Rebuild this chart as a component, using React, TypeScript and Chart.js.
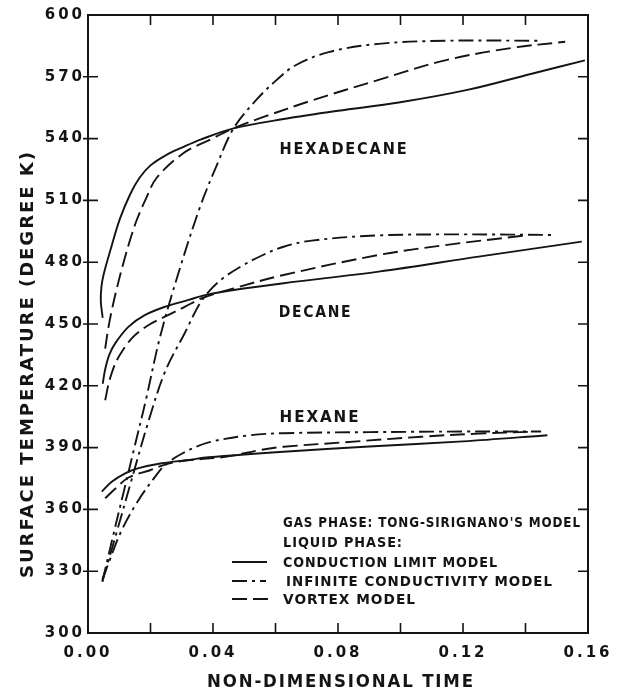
import { useEffect, useRef } from 'react';
import { Chart, registerables } from 'chart.js';

Chart.register(...registerables);

const INK = '#141414';
const FAMILY = '"DejaVu Sans", "Liberation Sans", sans-serif';

// Axis tick labels
const xTickLabels = ['0.00', '0.04', '0.08', '0.12', '0.16'];
const yTickLabels = ['300', '330', '360', '390', '420', '450', '480', '510', '540', '570', '600'];

// Hexadecane: non-dimensional time and surface temperature (K)
const hexadecaneConductionTime = [0.0047, 0.0041, 0.0043, 0.005, 0.0072, 0.0102, 0.0135, 0.0165, 0.02, 0.025, 0.0306, 0.036, 0.0466, 0.0626, 0.08, 0.0994, 0.121, 0.142, 0.159];
const hexadecaneConductionTemp = [453, 461, 468, 474, 486, 501, 513, 521, 527, 532, 536, 539.5, 545, 549.5, 553.5, 557.5, 563.5, 571.5, 578];
const hexadecaneInfiniteTime = [0.0046, 0.008, 0.0115, 0.015, 0.0185, 0.0231, 0.029, 0.0359, 0.0412, 0.0466, 0.054, 0.0604, 0.0663, 0.077, 0.093, 0.1143, 0.144];
const hexadecaneInfiniteTemp = [325, 347, 369, 391, 413, 444, 475, 507, 527, 545, 559, 568.5, 575.5, 582, 586, 587.5, 587.5];
const hexadecaneVortexTime = [0.0055, 0.0065, 0.0078, 0.0095, 0.0114, 0.0135, 0.0156, 0.0183, 0.022, 0.0306, 0.0391, 0.0466, 0.0562, 0.0716, 0.093, 0.1143, 0.1355, 0.1527];
const hexadecaneVortexTemp = [438, 448, 458, 469, 480, 491, 500.5, 510, 521, 533, 539.5, 545, 550.5, 558.5, 568.5, 578, 584, 587];

// Decane
const decaneConductionTime = [0.0047, 0.0055, 0.0068, 0.0087, 0.013, 0.0183, 0.0247, 0.0322, 0.0375, 0.0466, 0.0626, 0.093, 0.125, 0.158];
const decaneConductionTemp = [421, 428, 435, 440.6, 448.7, 454.4, 458.4, 461.7, 464, 466.5, 469.8, 475.4, 482.7, 490];
const decaneInfiniteTime = [0.0046, 0.009, 0.0135, 0.0194, 0.0247, 0.0311, 0.0354, 0.0385, 0.043, 0.049, 0.056, 0.0626, 0.0716, 0.093, 0.12, 0.1495];
const decaneInfiniteTemp = [325, 348, 372, 403, 427, 446, 459, 465.5, 472, 478, 483.5, 487.5, 490.5, 493, 493.5, 493.2];
const decaneVortexTime = [0.0055, 0.0066, 0.008, 0.0098, 0.014, 0.0194, 0.0258, 0.0311, 0.0364, 0.0466, 0.0626, 0.093, 0.1143, 0.14];
const decaneVortexTemp = [413, 421, 428, 434, 443, 449.5, 454.4, 458.4, 462.5, 467.3, 473.8, 483.5, 488.3, 493];

// Hexane
const hexaneConductionTime = [0.0044, 0.0076, 0.0119, 0.0162, 0.0236, 0.0322, 0.0386, 0.0626, 0.09, 0.12, 0.147];
const hexaneConductionTemp = [368.6, 373.4, 377.5, 380, 382.4, 384, 385.3, 388, 390.5, 393, 396];
const hexaneInfiniteTime = [0.0046, 0.0066, 0.0108, 0.0162, 0.0215, 0.0247, 0.03, 0.0386, 0.0519, 0.0626, 0.09, 0.12, 0.145];
const hexaneInfiniteTemp = [326, 334, 350, 364.6, 375.9, 381.6, 387, 392.5, 396, 397, 397.5, 397.8, 397.8];
const hexaneVortexTime = [0.0055, 0.0087, 0.013, 0.0199, 0.0242, 0.03, 0.0444, 0.055, 0.0626, 0.0823, 0.1068, 0.125, 0.142];
const hexaneVortexTemp = [365.4, 370, 375.5, 379, 381.5, 383.5, 385.6, 388.8, 390.4, 392.6, 395.3, 396.8, 397.7];

// Line styles for the liquid-phase models
const SOLID: number[] = [];
const DASH_DOT = [15, 5, 3, 5];
const DASHED = [15, 6];

const curves = [
  { label: 'Hexadecane, conduction limit', time: hexadecaneConductionTime, temp: hexadecaneConductionTemp, dash: SOLID },
  { label: 'Hexadecane, infinite conductivity', time: hexadecaneInfiniteTime, temp: hexadecaneInfiniteTemp, dash: DASH_DOT },
  { label: 'Hexadecane, vortex', time: hexadecaneVortexTime, temp: hexadecaneVortexTemp, dash: DASHED },
  { label: 'Decane, conduction limit', time: decaneConductionTime, temp: decaneConductionTemp, dash: SOLID },
  { label: 'Decane, infinite conductivity', time: decaneInfiniteTime, temp: decaneInfiniteTemp, dash: DASH_DOT },
  { label: 'Decane, vortex', time: decaneVortexTime, temp: decaneVortexTemp, dash: DASHED },
  { label: 'Hexane, conduction limit', time: hexaneConductionTime, temp: hexaneConductionTemp, dash: SOLID },
  { label: 'Hexane, infinite conductivity', time: hexaneInfiniteTime, temp: hexaneInfiniteTemp, dash: DASH_DOT },
  { label: 'Hexane, vortex', time: hexaneVortexTime, temp: hexaneVortexTemp, dash: DASHED },
];

// Draws a bold string starting at (x, y) and squeezed or stretched to the given width
function fitText(ctx: CanvasRenderingContext2D, text: string, x: number, y: number, width: number, size: number, spacing: number) {
  ctx.save();
  ctx.font = `bold ${size}px ${FAMILY}`;
  (ctx as any).letterSpacing = `${spacing}px`;
  ctx.textAlign = 'left';
  ctx.textBaseline = 'alphabetic';
  ctx.fillStyle = INK;
  const natural = ctx.measureText(text).width - spacing;
  ctx.translate(x, y);
  ctx.scale(width / natural, 1);
  ctx.fillText(text, 0, 0);
  ctx.restore();
}

function sampleLine(ctx: CanvasRenderingContext2D, x0: number, x1: number, y: number, dash: number[]) {
  ctx.save();
  ctx.strokeStyle = INK;
  ctx.lineWidth = 1.9;
  ctx.setLineDash(dash);
  ctx.beginPath();
  ctx.moveTo(x0, y);
  ctx.lineTo(x1, y);
  ctx.stroke();
  ctx.restore();
}

const framePlugin = {
  id: 'frameAndNotes',
  beforeDraw(chart: any) {
    chart.ctx.letterSpacing = '3px';
  },
  beforeDatasetsDraw(chart: any) {
    chart.ctx.letterSpacing = '0px';
  },
  afterDraw(chart: any) {
    const { ctx, chartArea: a, scales } = chart;
    const xs = scales.x;
    const ys = scales.y;
    ctx.save();
    ctx.strokeStyle = INK;
    ctx.setLineDash([]);
    ctx.lineWidth = 2;
    ctx.strokeRect(a.left, a.top, a.right - a.left, a.bottom - a.top);

    // tick marks pointing into the plot on all four sides
    ctx.lineWidth = 1.6;
    ctx.beginPath();
    xs.ticks.forEach((t: any, i: number) => {
      if (i === 0 || i === xs.ticks.length - 1) return;
      const px = xs.getPixelForValue(t.value);
      ctx.moveTo(px, a.bottom);
      ctx.lineTo(px, a.bottom - 10);
      ctx.moveTo(px, a.top);
      ctx.lineTo(px, a.top + 10);
    });
    ys.ticks.forEach((t: any, i: number) => {
      if (i === 0 || i === ys.ticks.length - 1) return;
      const py = ys.getPixelForValue(t.value);
      ctx.moveTo(a.left - 5, py);
      ctx.lineTo(a.left + 10, py);
      ctx.moveTo(a.right, py);
      ctx.lineTo(a.right - 10, py);
    });
    ctx.stroke();
    ctx.restore();

    // fuel names beside their curve families
    const px = (v: number) => xs.getPixelForValue(v);
    const py = (v: number) => ys.getPixelForValue(v);
    fitText(ctx, 'HEXADECANE', px(0.0613), py(532.5), 127, 16, 2);
    fitText(ctx, 'DECANE', px(0.061), py(453.4), 72, 16, 2);
    fitText(ctx, 'HEXANE', px(0.0613), py(402.4), 79, 16, 2);

    // model key
    fitText(ctx, "GAS PHASE: TONG-SIRIGNANO'S MODEL", 283, 527, 297, 13.5, 1);
    fitText(ctx, 'LIQUID PHASE:', 283, 547, 119, 13.5, 1);
    fitText(ctx, 'CONDUCTION LIMIT MODEL', 283, 567, 214, 13.5, 1);
    fitText(ctx, 'INFINITE CONDUCTIVITY MODEL', 286, 586, 266, 13.5, 1);
    fitText(ctx, 'VORTEX MODEL', 283, 604, 132, 13.5, 1);
    sampleLine(ctx, 232, 267, 562, SOLID);
    sampleLine(ctx, 232, 266, 581, DASH_DOT);
    sampleLine(ctx, 232, 268, 599, DASHED);

    // axis titles
    fitText(ctx, 'NON-DIMENSIONAL TIME', 207, 687, 266, 18, 2);
    ctx.save();
    ctx.translate(33, 578);
    ctx.rotate(-Math.PI / 2);
    fitText(ctx, 'SURFACE TEMPERATURE (DEGREE K)', 0, 0, 426, 18, 2);
    ctx.restore();
  },
};

export default function App() {
  const ref = useRef<HTMLCanvasElement>(null);

  useEffect(() => {
    const canvas = ref.current;
    if (!canvas) return;
    const datasets = curves.map((c) => ({
      label: c.label,
      data: c.time.map((t, i) => ({ x: t, y: c.temp[i] })),
      showLine: true,
      borderColor: INK,
      borderWidth: 1.9,
      borderDash: c.dash,
      pointRadius: 0,
      pointHoverRadius: 0,
      tension: 0.35,
      fill: false,
    }));

    const chart = new Chart(canvas, {
      type: 'scatter',
      data: { datasets },
      plugins: [framePlugin],
      options: {
        animation: false,
        responsive: false,
        devicePixelRatio: 1,
        layout: { padding: { left: 0, top: 15, right: 33, bottom: 0 } },
        plugins: { legend: { display: false }, tooltip: { enabled: false } },
        scales: {
          x: {
            type: 'linear',
            min: 0,
            max: 0.16,
            grid: { display: false, drawTicks: false },
            border: { display: false },
            afterFit: (scale: any) => {
              scale.height = 57;
            },
            ticks: {
              stepSize: 0.02,
              autoSkip: false,
              maxRotation: 0,
              padding: 11,
              color: INK,
              font: { family: FAMILY, size: 15, weight: 'bold' },
              callback: (_v: any, i: number) => (i % 2 === 0 ? xTickLabels[i / 2] ?? '' : ''),
            },
          },
          y: {
            type: 'linear',
            min: 300,
            max: 600,
            grid: { display: false, drawTicks: false },
            border: { display: false },
            afterFit: (scale: any) => {
              scale.width = 88;
            },
            ticks: {
              stepSize: 30,
              autoSkip: false,
              padding: 3,
              color: INK,
              font: { family: FAMILY, size: 15, weight: 'bold' },
              callback: (v: any) => (yTickLabels.includes(String(v)) ? String(v) : ''),
            },
          },
        },
      } as any,
    });
    return () => chart.destroy();
  }, []);

  return (
    <div style={{ position: 'absolute', left: 0, top: 0, width: 621, height: 690, background: '#fff' }}>
      <canvas ref={ref} width={621} height={690} style={{ display: 'block', width: 621, height: 690 }} />
    </div>
  );
}
